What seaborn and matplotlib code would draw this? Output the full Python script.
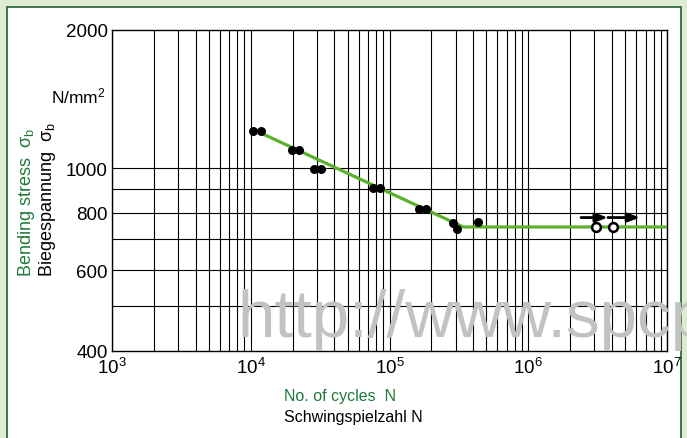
import matplotlib
matplotlib.use("Agg")
import matplotlib.pyplot as plt
from matplotlib.patches import Rectangle
from matplotlib.ticker import FixedLocator, FixedFormatter, NullFormatter, LogLocator, LogFormatterMathtext
import seaborn as sns
import numpy as np

# ---- data ----
test_cycles = [10300, 11800, 19800, 22400, 28400, 31900, 75700, 85900,
               162000, 183000, 286000, 308000, 433000]
test_stress = [1205, 1205, 1095, 1095, 996, 996, 905, 905,
               815, 815, 759, 737, 763]
runout_cycles = [3.08e6, 4.1e6]
runout_stress = [745, 745]
curve_cycles = [10700, 340000, 1e7]
curve_stress = [1210, 745, 745]
arrow_cycles = [2.4e6, 3.75e6, 6.4e6]
arrow_stress = 781
y_tick_values = [400, 600, 800, 1000, 2000]
y_grid_values = [500, 600, 700, 800, 900, 1000]

sns.set_theme(style="white")
plt.rcParams['font.family'] = ['Liberation Sans', 'DejaVu Sans']
plt.rcParams['mathtext.default'] = 'regular'
plt.rcParams['text.color'] = 'black'

GREEN_TXT = '#1f7a3a'
GREEN_LINE = '#5cb02c'

fig = plt.figure(figsize=(6.87, 4.39), dpi=100)
fig.patch.set_facecolor('#dfebd0')
fig.patches.append(Rectangle((7/687, -0.05), (681-7)/687, (439-8)/439 + 0.05,
                             transform=fig.transFigure, facecolor='white',
                             edgecolor='#2e6b3a', linewidth=1.3, zorder=-10))

ax = fig.add_axes([112/687, (439-352)/439, (667-112)/687, (352-31)/439])
ax.set_facecolor('none')
ax.set_xscale('log')
ax.set_yscale('log')
ax.set_xlim(1e3, 1e7)
ax.set_ylim(400, 2000)

# grid
ax.xaxis.set_major_locator(LogLocator(base=10, numticks=10))
ax.xaxis.set_minor_locator(LogLocator(base=10, subs=np.arange(2, 10), numticks=20))
ax.xaxis.set_major_formatter(LogFormatterMathtext())
ax.xaxis.set_minor_formatter(NullFormatter())
ax.yaxis.set_major_locator(FixedLocator(y_tick_values))
ax.yaxis.set_major_formatter(FixedFormatter([str(v) for v in y_tick_values]))
ax.yaxis.set_minor_locator(FixedLocator(y_grid_values))
ax.yaxis.set_minor_formatter(NullFormatter())
ax.grid(False)
ax.xaxis.grid(True, which='both', color='black', linewidth=0.8)
for v in y_grid_values:
    ax.axhline(v, color='black', linewidth=0.8, zorder=0.5)
ax.tick_params(axis='both', which='both', length=0, labelcolor='black')
ax.tick_params(axis='x', labelsize=13.5, pad=4)
ax.tick_params(axis='y', labelsize=13.5, pad=3)
for s in ax.spines.values():
    s.set_color('black')
    s.set_linewidth(1.0)

# watermark
fig.text(237/687, (439-337)/439, 'http://www.spcp', fontsize=48.5, color='#c2c2c2',
         va='baseline', ha='left', zorder=1)

# curve
sns.lineplot(x=curve_cycles, y=curve_stress, ax=ax, color=GREEN_LINE, linewidth=2.3,
             sort=False, estimator=None, zorder=3)
# test points
sns.scatterplot(x=test_cycles, y=test_stress, ax=ax, color='black', s=42,
                edgecolor='black', linewidth=0, zorder=4)
sns.scatterplot(x=runout_cycles, y=runout_stress, ax=ax, facecolor='white', s=40,
                edgecolor='black', linewidth=1.8, zorder=5)
# run-out arrows
for a, b in zip(arrow_cycles[:-1], arrow_cycles[1:]):
    ax.annotate('', xy=(b, arrow_stress), xytext=(a, arrow_stress),
                arrowprops=dict(arrowstyle='-|>,head_length=0.6,head_width=0.22',
                                color='black', linewidth=2.0, shrinkA=0, shrinkB=0),
                zorder=6)

ax.set_xlabel('')
ax.set_ylabel('')

# axis labels
fig.text(27/687, (439-277)/439, r'Bending stress  $\sigma_b$', rotation=90,
         color=GREEN_TXT, fontsize=13, ha='center', va='bottom')
fig.text(48/687, (439-277)/439, r'Biegespannung  $\sigma_b$', rotation=90,
         color='black', fontsize=13, ha='center', va='bottom')
fig.text(106/687, (439-96)/439, r'N/mm$^2$', color='black', fontsize=12.5,
         ha='right', va='center')
fig.text(284/687, (439-397)/439, 'No. of cycles  N', color=GREEN_TXT, fontsize=11.5,
         ha='left', va='center')
fig.text(284/687, (439-418)/439, 'Schwingspielzahl N', color='black', fontsize=11.5,
         ha='left', va='center')

fig.savefig('out.png', dpi=100, facecolor=fig.get_facecolor())
